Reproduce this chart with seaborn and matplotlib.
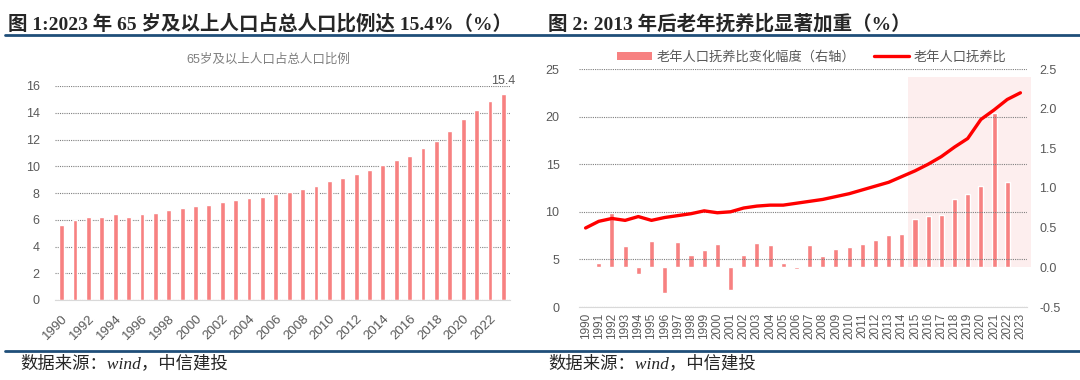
import numpy as np
import pandas as pd
import matplotlib
matplotlib.use('Agg')
import matplotlib.pyplot as plt
from matplotlib.lines import Line2D
from matplotlib.patches import Patch
import seaborn as sns

# 年份
years = [str(y) for y in range(1990, 2024)]

# 图1：65岁及以上人口占总人口比例（%）
share_65 = [5.6, 6.0, 6.2, 6.2, 6.4, 6.2, 6.4, 6.5, 6.7, 6.9,
            7.0, 7.1, 7.3, 7.5, 7.6, 7.7, 7.9, 8.1, 8.3, 8.5,
            8.9, 9.1, 9.4, 9.7, 10.1, 10.5, 10.8, 11.4, 11.9, 12.6,
            13.5, 14.2, 14.9, 15.4]

# 图2：老年人口抚养比（左轴）
dep_ratio = [8.3, 9.0, 9.3, 9.1, 9.5, 9.1, 9.4, 9.6, 9.8, 10.1,
             9.9, 10.0, 10.4, 10.6, 10.7, 10.7, 10.9, 11.1, 11.3, 11.6,
             11.9, 12.3, 12.7, 13.1, 13.7, 14.3, 15.0, 15.8, 16.8, 17.7,
             19.7, 20.7, 21.8, 22.5]

# 图2：老年人口抚养比变化幅度（右轴），1990 与 2023 无数据
dep_change = [np.nan, 0.06, 0.69, 0.27, -0.08, 0.33, -0.32, 0.32, 0.16, 0.22,
              0.29, -0.28, 0.16, 0.31, 0.28, 0.05, -0.02, 0.28, 0.14, 0.23,
              0.26, 0.30, 0.35, 0.41, 0.42, 0.61, 0.65, 0.66, 0.86, 0.92,
              1.03, 1.95, 1.08, np.nan]

# 2013年后阴影区域起点（2015年）
shade_from = '2015'

left_yticks = [0, 2, 4, 6, 8, 10, 12, 14, 16]
right_yticks_l = [0, 5, 10, 15, 20, 25]
right_yticks_r = [-0.5, 0.0, 0.5, 1.0, 1.5, 2.0, 2.5]

BAR = '#f78181'
LINE = '#ff0000'
SHADE = '#fdeeee'
GRID = '#7f7f7f'
TXT = '#595959'
AXL = '#d9d9d9'
BLUE = '#1f4e79'

sns.set_style('white')
plt.rcParams['font.family'] = ['Liberation Sans', 'Noto Sans CJK SC']
plt.rcParams['axes.unicode_minus'] = False

fig = plt.figure(figsize=(10.8, 3.8), dpi=100)

# ---------------- 图1 ----------------
ax1 = fig.add_axes([55 / 1080, 1 - 300 / 380, 455 / 1080, 214 / 380])
df1 = pd.DataFrame({'year': years, 'share': share_65})
sns.barplot(data=df1, x='year', y='share', order=years, color=BAR,
            saturation=1, width=0.36, errorbar=None, ax=ax1, zorder=2)
ax1.set_xlim(-0.5, len(years) - 0.5)
ax1.set_ylim(0, 16)
ax1.set_yticks(left_yticks)
ax1.yaxis.grid(True, color=GRID, linestyle=(0, (1, 1)), linewidth=0.8, zorder=0)
ax1.set_axisbelow(True)
ax1.set_xticks(range(0, len(years), 2))
ax1.set_xticklabels(years[::2], rotation=45, ha='right', rotation_mode='anchor')
ax1.set_xticks(np.arange(-0.5, len(years), 1), minor=True)
ax1.tick_params(axis='x', which='major', length=0, labelsize=9.5, labelcolor=TXT, pad=9)
ax1.tick_params(axis='x', which='minor', length=4, color=AXL, width=0.8)
ax1.tick_params(axis='y', length=0, labelsize=9, labelcolor=TXT, pad=11)
ax1.set_xlabel('')
ax1.set_ylabel('')
for s in ['left', 'right', 'top']:
    ax1.spines[s].set_visible(False)
ax1.spines['bottom'].set_color(AXL)
ax1.text(len(years) - 1, share_65[-1] + 0.55, f'{share_65[-1]:.1f}', ha='center',
         va='bottom', fontsize=9, color=TXT, clip_on=False)
fig.text(268 / 1080, 1 - 60 / 380, '65岁及以上人口占总人口比例', ha='center', va='center',
         fontsize=9, color='#7f7f7f')

# ---------------- 图2 ----------------
ax = fig.add_axes([579 / 1080, 1 - 307 / 380, 448 / 1080, 238 / 380])
ax2 = ax.twinx()
df2 = pd.DataFrame({'year': years, 'chg': dep_change}).dropna()
x0 = years.index(shade_from) - 0.5
ax2.fill_between([x0, len(years) - 0.2], 0, 2.4, color=SHADE, zorder=0,
                 linewidth=0, clip_on=False)
sns.barplot(data=df2, x='year', y='chg', order=years, color=BAR, saturation=1,
            width=0.38, errorbar=None, ax=ax2, zorder=2)
sns.lineplot(x=np.arange(len(years)), y=dep_ratio, color=LINE, linewidth=2.4,
             ax=ax, zorder=3)
ax.set_zorder(ax2.get_zorder() + 1)
ax.patch.set_visible(False)

ax.set_xlim(-0.5, len(years) - 0.5)
ax.set_ylim(0, 25)
ax2.set_ylim(-0.5, 2.5)
ax.set_yticks(right_yticks_l)
ax2.set_yticks(right_yticks_r)
ax2.set_yticklabels([f'{v:.1f}' for v in right_yticks_r])
ax.yaxis.grid(True, color=GRID, linestyle=(0, (1, 1)), linewidth=0.8)
ax.set_xticks(range(len(years)))
ax.set_xticklabels(years, rotation=90)
ax.set_xticks(np.arange(-0.5, len(years), 1), minor=True)
ax.tick_params(axis='x', which='major', length=0, labelsize=8.5, labelcolor=TXT, pad=4)
ax.tick_params(axis='x', which='minor', length=4, color=AXL, width=0.8)
ax.tick_params(axis='y', length=0, labelsize=9, labelcolor=TXT, pad=14)
ax2.tick_params(axis='y', length=0, labelsize=9, labelcolor=TXT, pad=9)
for a in (ax, ax2):
    a.set_xlabel('')
    a.set_ylabel('')
    for s in ['left', 'right', 'top']:
        a.spines[s].set_visible(False)
ax.spines['bottom'].set_color(AXL)
ax2.spines['bottom'].set_visible(False)

handles = [Patch(facecolor=BAR, edgecolor='none'),
           Line2D([0], [0], color=LINE, linewidth=2.4)]
labels = ['老年人口抚养比变化幅度（右轴）', '老年人口抚养比']
fig.legend(handles, labels, loc='center', bbox_to_anchor=(812 / 1080, 1 - 57 / 380),
           ncol=2, frameon=False, fontsize=9.5, labelcolor=TXT, handlelength=2.6,
           handleheight=0.55, columnspacing=1.4, handletextpad=0.4)

# ---------------- 标题与脚注 ----------------
title_font = ['Liberation Serif', 'Noto Sans CJK SC']
fig.text(8 / 1080, 1 - 24 / 380, '图 1:2023 年 65 岁及以上人口占总人口比例达 15.4%（%）',
         ha='left', va='center', fontsize=14, fontweight='bold', family=title_font)
fig.text(548 / 1080, 1 - 24 / 380, '图 2: 2013 年后老年抚养比显著加重（%）',
         ha='left', va='center', fontsize=14, fontweight='bold', family=title_font)
fig.add_artist(Line2D([5 / 1080, 1], [1 - 35 / 380] * 2, transform=fig.transFigure,
                      color=BLUE, linewidth=2))
fig.add_artist(Line2D([5 / 1080, 1], [1 - 351 / 380] * 2, transform=fig.transFigure,
                      color=BLUE, linewidth=2))
fig.text(20 / 1080, 1 - 364 / 380, '数据来源：wind，中信建投', ha='left', va='center',
         fontsize=12.5, style='italic', family=title_font)
fig.text(548 / 1080, 1 - 364 / 380, '数据来源：wind，中信建投', ha='left', va='center',
         fontsize=12.5, style='italic', family=title_font)

fig.savefig('out.png', dpi=100)
